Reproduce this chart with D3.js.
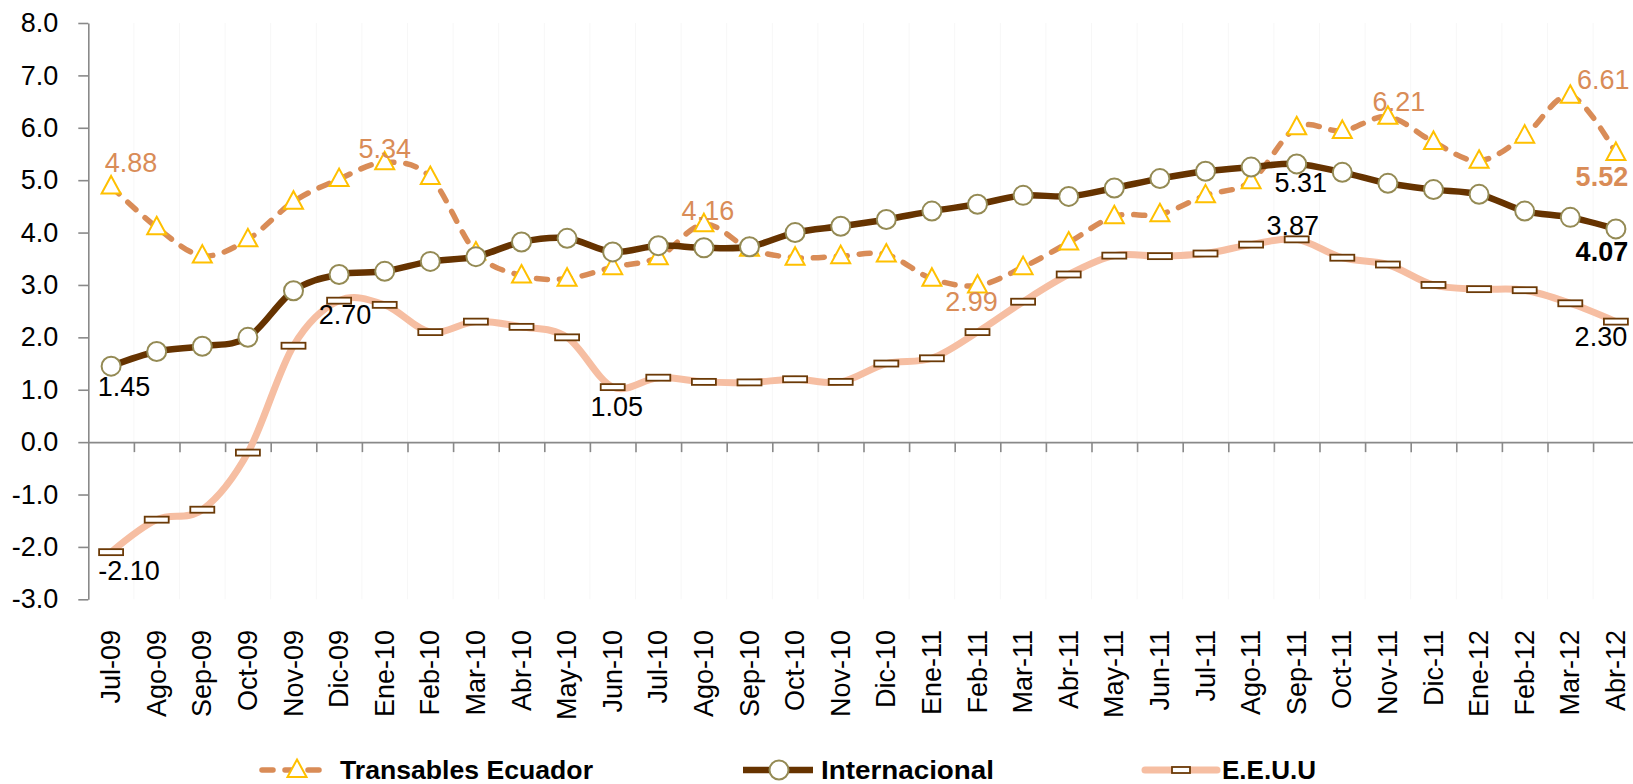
<!DOCTYPE html>
<html><head><meta charset="utf-8">
<script src="https://cdn.jsdelivr.net/npm/d3@7"></script>
<style>
html,body{margin:0;padding:0;background:#fff;}
svg{display:block;}
text{font-family:"Liberation Sans",Arial,sans-serif;}
</style></head>
<body>
<svg id="chart" width="1633" height="784"></svg>
<script>
const categories = ["Jul-09","Ago-09","Sep-09","Oct-09","Nov-09","Dic-09","Ene-10","Feb-10","Mar-10","Abr-10","May-10","Jun-10","Jul-10","Ago-10","Sep-10","Oct-10","Nov-10","Dic-10","Ene-11","Feb-11","Mar-11","Abr-11","May-11","Jun-11","Jul-11","Ago-11","Sep-11","Oct-11","Nov-11","Dic-11","Ene-12","Feb-12","Mar-12","Abr-12"];
const transables = [4.88,4.10,3.56,3.87,4.59,5.02,5.34,5.06,3.62,3.18,3.12,3.34,3.53,4.16,3.69,3.52,3.55,3.58,3.12,2.99,3.34,3.81,4.31,4.35,4.71,4.98,6.01,5.94,6.21,5.73,5.37,5.85,6.61,5.52];
const internacional = [1.45,1.73,1.83,2.00,2.89,3.20,3.26,3.45,3.54,3.82,3.89,3.63,3.75,3.71,3.73,4.00,4.12,4.25,4.41,4.54,4.71,4.69,4.85,5.03,5.17,5.25,5.31,5.15,4.94,4.82,4.73,4.41,4.29,4.07];
const eeuu = [-2.10,-1.48,-1.29,-0.20,1.84,2.70,2.62,2.10,2.30,2.20,2.00,1.05,1.23,1.15,1.14,1.20,1.15,1.50,1.60,2.10,2.68,3.20,3.56,3.55,3.60,3.77,3.87,3.52,3.39,3.00,2.92,2.90,2.65,2.30];
const seriesNames = ["Transables Ecuador","Internacional","E.E.U.U"];
const yTicks = [-3,-2,-1,0,1,2,3,4,5,6,7,8];

// data labels: series index, category index, offsets, bold
const labelSpecs = [
  {s:0,i:0,dx:20,dy:-23},{s:0,i:6,dx:0,dy:-13},{s:0,i:13,dx:4,dy:-13},{s:0,i:19,dx:-6,dy:17},
  {s:0,i:28,dx:11,dy:-15},{s:0,i:32,dx:33,dy:-16},{s:0,i:33,dx:-14,dy:24,bold:true},
  {s:1,i:0,dx:13,dy:21},{s:1,i:26,dx:4,dy:19.5},{s:1,i:33,dx:-14,dy:23,bold:true},
  {s:2,i:0,dx:18,dy:19},{s:2,i:5,dx:6,dy:14.5},{s:2,i:11,dx:4,dy:20},{s:2,i:26,dx:-4,dy:-13},{s:2,i:33,dx:-15,dy:15.5}
];

const svg = d3.select("#chart");
svg.append("rect").attr("width",1633).attr("height",784).attr("fill","#fff");

const left = 88.3, band = 45.6;
const x = d3.scaleBand().domain(categories).range([left, left + band*categories.length]).padding(0);
const xb = d3.scaleLinear().domain([0, categories.length]).range([left, left + band*categories.length]);
const y = d3.scaleLinear().domain([-3, 8]).range([599.3, 23]);
const cx = c => x(c) + x.bandwidth()/2;

// faint vertical gridlines
svg.append("g").selectAll("line").data(d3.range(1, categories.length+1)).join("line")
  .attr("x1", d=>xb(d)).attr("x2", d=>xb(d)).attr("y1", y(8)).attr("y2", y(-3))
  .attr("stroke","#f7f7f7").attr("stroke-width",1);

// Y axis
const yAxis = svg.append("g").attr("transform",`translate(${left},0)`)
  .call(d3.axisLeft(y).tickValues(yTicks).tickSize(10).tickSizeOuter(0).tickPadding(20).tickFormat(d=>d.toFixed(1)));
yAxis.selectAll("path,line").attr("stroke","#898989").attr("stroke-width",1.6);
yAxis.selectAll("text").attr("font-size",27).attr("fill","#000").attr("font-family","Liberation Sans, Arial, sans-serif");

// X axis at zero
const xAxis = svg.append("g").attr("transform",`translate(0,${y(0)})`)
  .call(d3.axisBottom(xb).tickValues(d3.range(1, categories.length+1)).tickSize(10).tickSizeOuter(0).tickFormat(""));
xAxis.selectAll("path,line").attr("stroke","#898989").attr("stroke-width",1.6);

// X labels at bottom
svg.append("g").selectAll("text").data(categories).join("text")
  .attr("transform", d=>`translate(${cx(d)},630) rotate(-90)`)
  .attr("text-anchor","end").attr("dominant-baseline","central")
  .attr("font-size",27).attr("fill","#000").text(d=>d);

const curve = d3.curveCatmullRom.alpha(0);
const line = d3.line().x((d,i)=>cx(categories[i])).y(d=>y(d)).curve(curve);

const triPath = "M0,-10.5 L9.5,7 L-9.5,7 Z";

// Series 1: Transables
const g1 = svg.append("g");
g1.append("path").attr("d", line(transables)).attr("fill","none")
  .attr("stroke","#D98C57").attr("stroke-width",5.5).attr("stroke-dasharray","11,12").attr("stroke-linecap","round");
g1.selectAll("path.m").data(transables).join("path").attr("class","m")
  .attr("transform",(d,i)=>`translate(${cx(categories[i])},${y(d)})`)
  .attr("d",triPath).attr("fill","#fff").attr("stroke","#FFC000").attr("stroke-width",2);

// Series 2: Internacional
const g2 = svg.append("g");
g2.append("path").attr("d", line(internacional)).attr("fill","none")
  .attr("stroke","#663300").attr("stroke-width",6.5).attr("stroke-linejoin","round");
g2.selectAll("circle").data(internacional).join("circle")
  .attr("cx",(d,i)=>cx(categories[i])).attr("cy",d=>y(d)).attr("r",9.5)
  .attr("fill","#fff").attr("stroke","#948A54").attr("stroke-width",2);

// Series 3: EEUU
const g3 = svg.append("g");
g3.append("path").attr("d", line(eeuu)).attr("fill","none")
  .attr("stroke","#F6BEA2").attr("stroke-width",7).attr("stroke-linejoin","round");
g3.selectAll("rect").data(eeuu).join("rect")
  .attr("x",(d,i)=>cx(categories[i])-12).attr("y",d=>y(d)-3).attr("width",24).attr("height",6)
  .attr("fill","#fff").attr("stroke","#6B3A07").attr("stroke-width",1.8);

// data labels
const allSeries = [transables, internacional, eeuu];
const labelColors = ["#D98C57","#000","#000"];
svg.append("g").selectAll("text").data(labelSpecs).join("text")
  .attr("x", d=>cx(categories[d.i]) + d.dx)
  .attr("y", d=>y(allSeries[d.s][d.i]) + d.dy)
  .attr("text-anchor","middle").attr("dominant-baseline","central")
  .attr("font-size",27).attr("font-weight",d=>d.bold?"bold":"normal")
  .attr("fill", d=>labelColors[d.s])
  .text(d=>allSeries[d.s][d.i].toFixed(2));

// Legend
const ly = 770;
const leg = svg.append("g");
const legItems = [
  {name:seriesNames[0], x1:262, x2:330, mx:297, tx:340, tl:253},
  {name:seriesNames[1], x1:743, x2:813, mx:779, tx:821, tl:173},
  {name:seriesNames[2], x1:1145, x2:1217, mx:1181, tx:1222, tl:94}
];
// Transables sample
leg.append("line").attr("x1",legItems[0].x1).attr("x2",legItems[0].x2).attr("y1",ly).attr("y2",ly)
  .attr("stroke","#D98C57").attr("stroke-width",5.5).attr("stroke-dasharray","11,12").attr("stroke-linecap","round");
leg.append("path").attr("transform",`translate(${legItems[0].mx},${ly})`).attr("d",triPath)
  .attr("fill","#fff").attr("stroke","#FFC000").attr("stroke-width",2);
// Internacional sample
leg.append("line").attr("x1",legItems[1].x1).attr("x2",legItems[1].x2).attr("y1",ly).attr("y2",ly)
  .attr("stroke","#663300").attr("stroke-width",6.5);
leg.append("circle").attr("cx",legItems[1].mx).attr("cy",ly).attr("r",9.5)
  .attr("fill","#fff").attr("stroke","#948A54").attr("stroke-width",2);
// EEUU sample
leg.append("line").attr("x1",legItems[2].x1).attr("x2",legItems[2].x2).attr("y1",ly).attr("y2",ly)
  .attr("stroke","#F6BEA2").attr("stroke-width",7).attr("stroke-linecap","round");
leg.append("rect").attr("x",legItems[2].mx-9).attr("y",ly-3).attr("width",18).attr("height",6)
  .attr("fill","#fff").attr("stroke","#6B3A07").attr("stroke-width",1.8);

leg.selectAll("text").data(legItems).join("text")
  .attr("x",d=>d.tx).attr("y",ly + 8.5)
  .attr("font-family","Liberation Sans Narrow, Liberation Sans, Arial, sans-serif")
  .attr("font-weight","bold").attr("font-size",25).attr("fill","#000")
  .attr("textLength",d=>d.tl).attr("lengthAdjust","spacingAndGlyphs")
  .text(d=>d.name);
</script>
</body></html>
